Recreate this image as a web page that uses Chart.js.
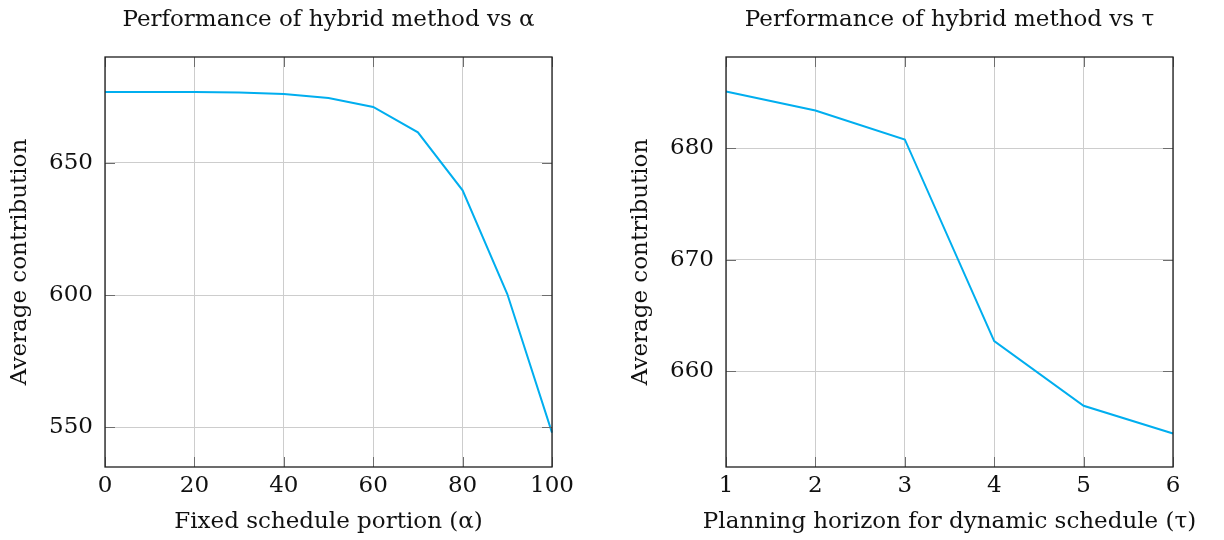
<!DOCTYPE html>
<html>
<head>
<meta charset="utf-8">
<script src="https://cdn.jsdelivr.net/npm/chart.js@4"></script>
<style>
  html, body { margin: 0; padding: 0; background: #fff; }
  #wrap { position: relative; width: 1224px; height: 540px; }
  .pane { position: absolute; top: 0; width: 612px; height: 540px; }
</style>
</head>
<body>
<div id="wrap">
  <div class="pane" style="left:0"><canvas id="c1" width="612" height="540"></canvas></div>
  <div class="pane" style="left:612px"><canvas id="c2" width="612" height="540"></canvas></div>
</div>
<script>
// ---- data ----
const alphaValues = [0, 10, 20, 30, 40, 50, 60, 70, 80, 90, 100];
const alphaContribution = [676.8, 676.8, 676.8, 676.6, 676.0, 674.5, 671.1, 661.5, 639.6, 600.4, 548.0];
const tauValues = [1, 2, 3, 4, 5, 6];
const tauContribution = [685.1, 683.4, 680.8, 662.7, 656.9, 654.4];

const leftTitle = 'Performance of hybrid method vs α';
const rightTitle = 'Performance of hybrid method vs τ';
const leftXLabel = 'Fixed schedule portion (α)';
const rightXLabel = 'Planning horizon for dynamic schedule (τ)';
const yLabel = 'Average contribution';

const FONT = "'DejaVu Serif', serif";
const FS = 23;
const LINE = 'rgb(0,174,239)';

const framePlugin = {
  id: 'frame',
  afterLayout(chart) {
    const ca = chart.chartArea;
    if (chart.titleBlock) {
      chart.titleBlock.left = ca.left;
      chart.titleBlock.right = ca.right;
    }
    // give the x-axis title room to extend beyond the plot width (centre unchanged)
    const xs = chart.scales.x;
    xs.left -= 50;
    xs.right += 50;
  },
  afterDraw(chart) {
    const ctx = chart.ctx, ca = chart.chartArea;
    const xs = chart.scales.x, ys = chart.scales.y;
    const L = 10;
    ctx.save();
    ctx.strokeStyle = 'rgb(110,110,110)';
    ctx.lineWidth = 1;
    ctx.beginPath();
    xs.ticks.forEach(t => {
      const px = Math.round(xs.getPixelForValue(t.value)) + 0.5;
      ctx.moveTo(px, ca.top); ctx.lineTo(px, ca.top + L);
      ctx.moveTo(px, ca.bottom); ctx.lineTo(px, ca.bottom - L);
    });
    ys.ticks.forEach(t => {
      const py = Math.round(ys.getPixelForValue(t.value)) + 0.5;
      ctx.moveTo(ca.left, py); ctx.lineTo(ca.left + L, py);
      ctx.moveTo(ca.right, py); ctx.lineTo(ca.right - L, py);
    });
    ctx.stroke();
    ctx.strokeStyle = 'rgb(30,30,30)';
    ctx.lineWidth = 1.3;
    ctx.strokeRect(ca.left, ca.top, ca.right - ca.left, ca.bottom - ca.top);
    ctx.restore();
  }
};

function makeChart(id, xs, ys, opts) {
  return new Chart(document.getElementById(id), {
    type: 'line',
    data: {
      datasets: [{
        data: xs.map((x, i) => ({ x: x, y: ys[i] })),
        borderColor: LINE,
        borderWidth: 2,
        pointRadius: 0,
        tension: 0,
        fill: false
      }]
    },
    options: {
      responsive: false,
      animation: false,
      devicePixelRatio: 1,
      layout: { padding: { left: 0, right: opts.padRight, top: 0, bottom: 0 } },
      plugins: {
        legend: { display: false },
        tooltip: { enabled: false },
        title: {
          display: true,
          text: opts.title,
          color: '#111',
          font: { family: FONT, size: FS, weight: 'normal' },
          padding: { top: 6, bottom: 23.4 }
        }
      },
      scales: {
        x: {
          type: 'linear',
          min: opts.xmin, max: opts.xmax,
          afterFit: s => { s.height = 73; },
          ticks: {
            stepSize: opts.xstep,
            color: '#111',
            padding: 5,
            maxRotation: 0,
            font: { family: FONT, size: FS },
            includeBounds: false
          },
          grid: { color: 'rgb(205,205,205)', lineWidth: 1, drawTicks: false },
          border: { display: false },
          title: {
            display: true,
            text: opts.xlabel,
            color: '#111',
            font: { family: FONT, size: FS },
            padding: { top: 0, bottom: 4 }
          }
        },
        y: {
          type: 'linear',
          min: opts.ymin, max: opts.ymax,
          afterFit: s => { s.width = opts.yWidth; },
          ticks: {
            stepSize: opts.ystep,
            color: '#111',
            padding: 12,
            font: { family: FONT, size: FS },
            includeBounds: false
          },
          grid: { color: 'rgb(205,205,205)', lineWidth: 1, drawTicks: false },
          border: { display: false },
          title: {
            display: true,
            text: yLabel,
            color: '#111',
            font: { family: FONT, size: FS },
            padding: { top: opts.yTitlePad, bottom: 0 }
          }
        }
      }
    },
    plugins: [framePlugin]
  });
}

makeChart('c1', alphaValues, alphaContribution, {
  title: leftTitle, xlabel: leftXLabel,
  xmin: 0, xmax: 100, xstep: 20,
  ymin: 535, ymax: 690, ystep: 50,
  padRight: 60, yWidth: 105, yTitlePad: 6
});
makeChart('c2', tauValues, tauContribution, {
  title: rightTitle, xlabel: rightXLabel,
  xmin: 1, xmax: 6, xstep: 1,
  ymin: 651.4, ymax: 688.2, ystep: 10,
  padRight: 51, yWidth: 114, yTitlePad: 15
});
</script>
</body>
</html>
